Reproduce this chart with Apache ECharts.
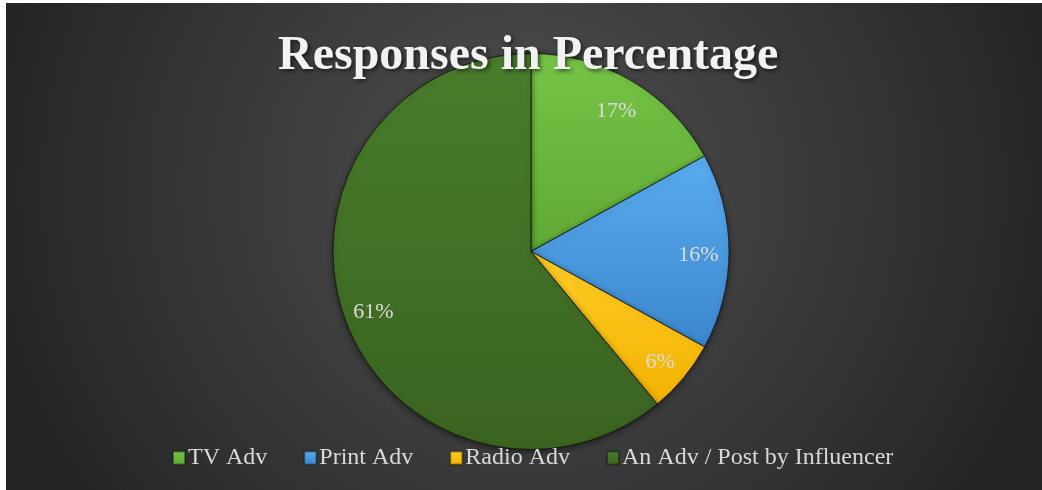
<!DOCTYPE html>
<html>
<head>
<meta charset="utf-8">
<script src="https://cdn.jsdelivr.net/npm/echarts@6/dist/echarts.min.js"></script>
<style>
  html, body { margin: 0; padding: 0; background: #ffffff; }
  body { width: 1042px; height: 490px; position: relative; overflow: hidden; }
  #chart { position: absolute; left: 6px; top: 3px; width: 1036px; height: 487px; }
</style>
</head>
<body>
<div id="chart"></div>
<script>
// 数据
var categories = ["TV Adv", "Print Adv", "Radio Adv", "An Adv / Post by Influencer"];
var percentages = [17, 16, 6, 61];

// 各扇区颜色 (上亮下暗)
var topColors = ["#76c447", "#58acef", "#ffcd26", "#4a7d2c"];
var bottomColors = ["#5fa934", "#3c86cc", "#f2b200", "#3a6320"];

function grad(i) {
  return new echarts.graphic.LinearGradient(0, 0, 0, 1, [
    { offset: 0, color: topColors[i] },
    { offset: 1, color: bottomColors[i] }
  ]);
}

var pieData = categories.map(function (name, i) {
  return { name: name, value: percentages[i], itemStyle: { color: grad(i) } };
});

// 只用来放标签的透明环
var labelData = categories.map(function (name, i) {
  return { name: name, value: percentages[i] };
});

var myChart = echarts.init(document.getElementById("chart"));

var option = {
  backgroundColor: {
    type: "radial",
    x: 0.5,
    y: 0.38,
    r: 1.15,
    colorStops: [
      { offset: 0, color: "#515151" },
      { offset: 1, color: "#232323" }
    ]
  },
  title: {
    text: "Responses in Percentage",
    left: 267,
    top: 25,
    textStyle: {
      fontFamily: "Liberation Serif",
      fontWeight: "bold",
      fontSize: 48,
      color: "#f2f2f2",
      textShadowColor: "rgba(0,0,0,0.6)",
      textShadowBlur: 4,
      textShadowOffsetX: 2,
      textShadowOffsetY: 2
    }
  },
  legend: {
    bottom: 15,
    left: 161,
    icon: "rect",
    itemWidth: 12,
    itemHeight: 13,
    itemGap: 36,
    textStyle: {
      fontFamily: "Liberation Serif",
      fontSize: 24,
      color: "#d9d9d9",
      padding: [0, 0, 0, -2]
    },
    data: categories
  },
  series: [
    {
      name: "Responses",
      type: "pie",
      center: [525, 248.5],
      radius: 198,
      startAngle: 90,
      clockwise: true,
      label: { show: false },
      labelLine: { show: false },
      itemStyle: {
        borderColor: "rgba(0,0,0,0.35)",
        borderWidth: 1,
        shadowColor: "rgba(0,0,0,0.5)",
        shadowBlur: 6,
        shadowOffsetY: 2
      },
      emphasis: { scale: false },
      data: pieData
    },
    {
      name: "labels",
      type: "pie",
      center: [525, 248.5],
      radius: [131, 198],
      startAngle: 90,
      clockwise: true,
      silent: true,
      legendHoverLink: false,
      itemStyle: { color: "rgba(0,0,0,0)" },
      label: {
        show: true,
        position: "inside",
        formatter: "{c}%",
        fontFamily: "Liberation Serif",
        fontSize: 22,
        color: "#dcdcdc"
      },
      labelLayout: { dy: 4 },
      labelLine: { show: false },
      data: labelData
    }
  ]
};

myChart.setOption(option);
</script>
</body>
</html>
